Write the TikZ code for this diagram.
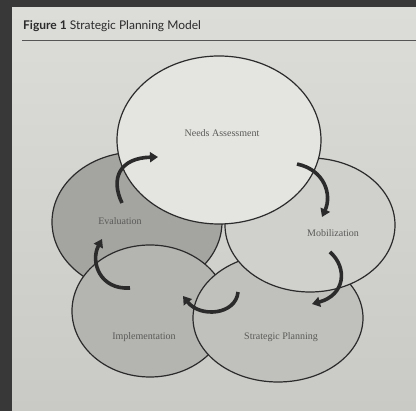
\documentclass[tikz,border=0pt]{standalone}
\usepackage{fontspec}
\setmainfont{Liberation Serif}
\setsansfont{Lato}
\usetikzlibrary{shapes.geometric,arrows.meta}

\definecolor{frame}{HTML}{383838}
\definecolor{paperhi}{HTML}{DCDCD9}
\definecolor{paperlo}{HTML}{C9C9C6}
\definecolor{ink}{HTML}{2B2B2B}
\definecolor{txt}{HTML}{5A5A58}
\definecolor{needsfill}{HTML}{E4E4E1}
\definecolor{evalfill}{HTML}{A4A4A1}
\definecolor{mobfill}{HTML}{D0D0CD}
\definecolor{implfill}{HTML}{B4B4B1}
\definecolor{planfill}{HTML}{C0C0BD}

\tikzset{
  stage/.style={ellipse, draw=ink, line width=1.2pt, inner sep=0pt},
  tag/.style={font=\fontsize{10}{11}\selectfont, text=txt},
  turn/.style={draw=ink, line width=3.6pt, -{Triangle[length=8pt,width=10pt]}},
}

\begin{document}
\begin{tikzpicture}[x=1pt,y=-1pt]
    \useasboundingbox (0,0) rectangle (416,411);
    \fill[frame] (0,0) rectangle (416,411);
    \shade[top color=paperhi, bottom color=paperlo] (12,8) rectangle (416,411);

    % title and rule
    \node[anchor=base west, font=\sffamily\fontsize{12}{14}\selectfont, text=ink, inner sep=0pt] (title) at (23,30) {\textbf{Figure 1} Strategic Planning Model};
    \coordinate (rulel) at (22,41);
    \coordinate (ruler) at (416,41);
    \draw[ink!80, line width=1pt] (rulel) -- (ruler);

    % the five stages
    \node[stage, fill=evalfill, minimum width=170pt, minimum height=140pt] (eval) at (137,222) {};
    \node[stage, fill=implfill, minimum width=156pt, minimum height=132pt] (impl) at (150,311) {};
    \node[stage, fill=planfill, minimum width=170pt, minimum height=128pt] (plan) at (278,318) {};
    \node[stage, fill=mobfill, minimum width=170pt, minimum height=134pt] (mob) at (310,225) {};
    \node[stage, fill=needsfill, minimum width=204pt, minimum height=168pt] (needs) at (219,140) {};

    \node[tag] (needstxt) at (222,133) {Needs Assessment};
    \node[tag] (evaltxt) at (120,221) {Evaluation};
    \node[tag] (mobtxt) at (333,233) {Mobilization};
    \node[tag] (impltxt) at (144,337) {Implementation};
    \node[tag] (plantxt) at (281,337) {Strategic Planning};

    % arrows
    \coordinate (a1) at (122,203);
    \coordinate (b1) at (158,157);
    \coordinate (a2) at (297,164);
    \coordinate (b2) at (322,217);
    \coordinate (a3) at (330,252);
    \coordinate (b3) at (312,304);
    \coordinate (a4) at (238,292);
    \coordinate (b4) at (183,296);
    \coordinate (a5) at (130,288);
    \coordinate (b5) at (102,239);

    \draw[turn] (a1) .. controls (110,178) and (120,158) .. (b1);
    \draw[turn] (a2) .. controls (325,170) and (332,195) .. (b2);
    \draw[turn] (a3) .. controls (348,268) and (345,295) .. (b3);
    \draw[turn] (a4) .. controls (236,315) and (200,318) .. (b4);
    \draw[turn] (a5) .. controls (100,290) and (90,262) .. (b5);
  \end{tikzpicture}
\end{document}
